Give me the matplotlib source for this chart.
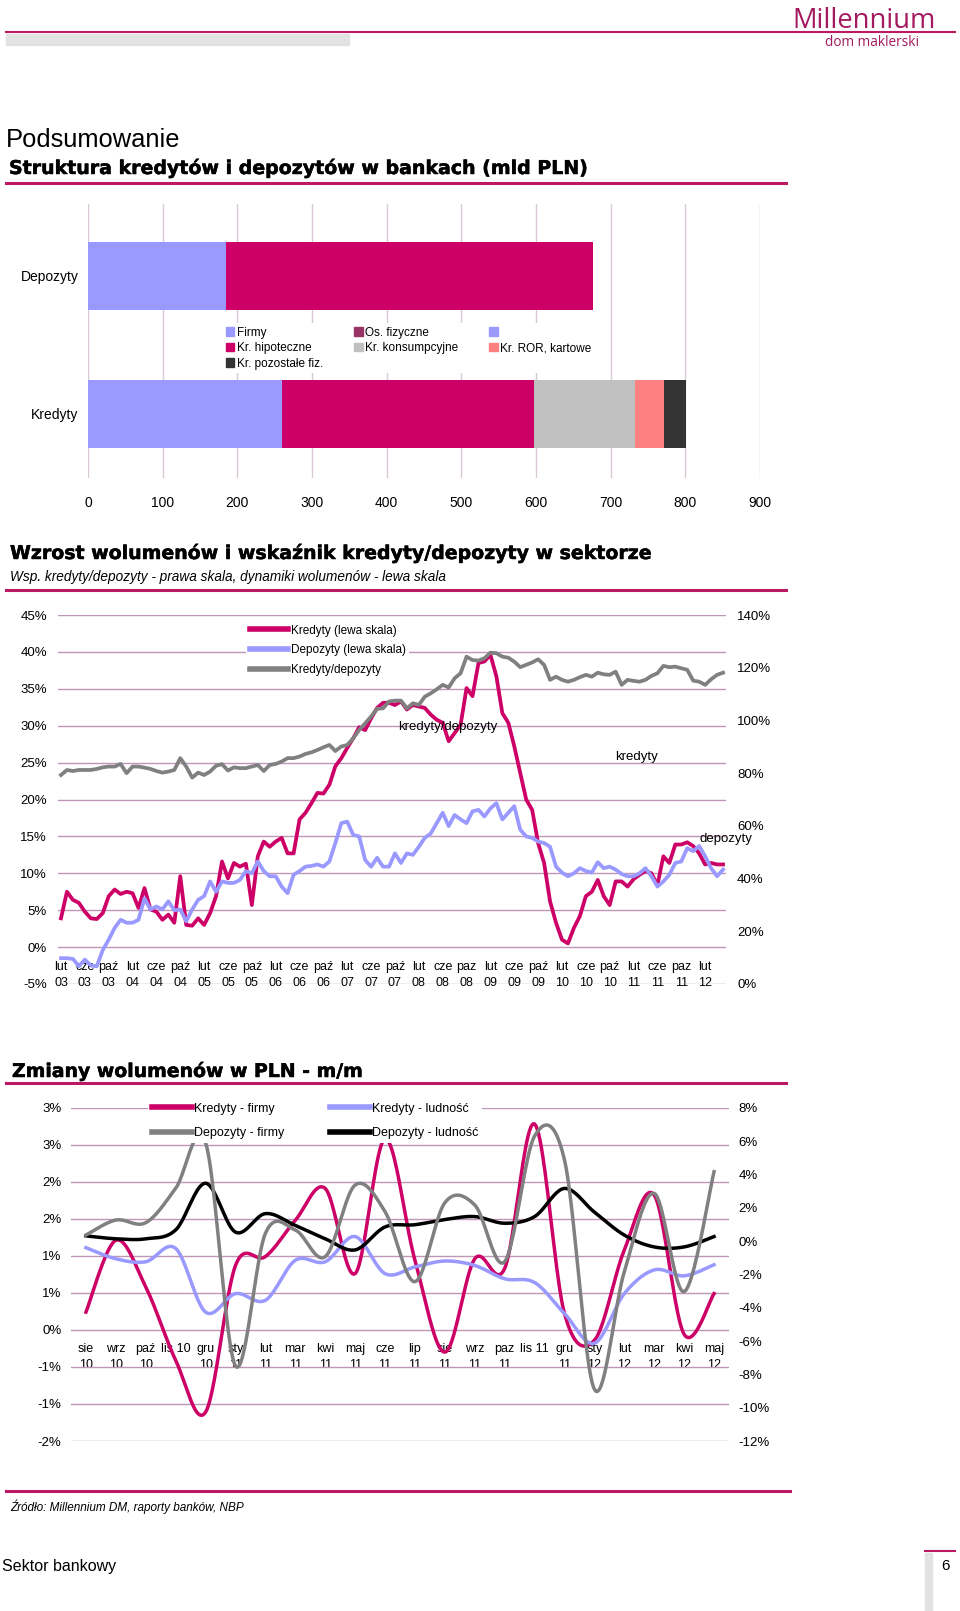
import numpy as np
import matplotlib
matplotlib.use('Agg')
import matplotlib.pyplot as plt
import matplotlib.patheffects as pe
from matplotlib.lines import Line2D
from matplotlib.patches import Patch, Rectangle
from matplotlib.ticker import FuncFormatter

plt.rcParams['font.family'] = ['Liberation Sans', 'DejaVu Sans']

# --- dane: struktura (mld PLN) ---
bar_cats = ['Kredyty', 'Depozyty']
dep_firmy = 185
dep_osoby = 491
kr_firmy_mld = 260
kr_hipo = 337
kr_konsum = 135
kr_ror = 39
kr_poz = 30

# --- dane: dynamiki r/r, lut 03 - maj 12 ---
kredyty = [3.9, 7.5, 6.4, 6.0, 4.8, 3.9, 3.8, 4.6, 6.9, 7.8, 7.2, 7.5,
           7.3, 5.3, 8.0, 5.1, 4.8, 3.7, 4.4, 3.3, 9.6, 3.0, 2.9, 3.9,
           3.0, 4.6, 6.9, 11.6, 9.3, 11.4, 10.9, 11.3, 5.7, 12.3, 14.3, 13.6,
           14.3, 14.8, 12.7, 12.7, 17.3, 18.2, 19.5, 20.9, 20.8, 22.0, 24.5, 25.6,
           27.0, 28.3, 29.8, 29.4, 31.0, 32.4, 33.1, 33.1, 32.8, 33.3, 32.2, 32.8,
           32.6, 32.4, 31.5, 30.8, 30.4, 27.9, 29.0, 30.1, 35.1, 34.0, 38.5, 38.7,
           39.6, 36.7, 31.7, 30.4, 27.2, 23.6, 20.0, 18.6, 14.1, 11.4, 6.2, 3.3,
           1.0, 0.5, 2.6, 4.2, 6.9, 7.5, 9.1, 6.9, 5.7, 8.9, 8.9, 8.2,
           9.2, 9.8, 10.3, 10.0, 8.4, 12.3, 11.4, 13.9, 13.9, 14.2, 13.7, 12.7,
           11.2, 11.4, 11.2, 11.2]
depozyty = [-1.5, -1.5, -1.6, -2.6, -1.7, -2.5, -2.6, -0.4, 1.0, 2.6, 3.7, 3.3,
            3.3, 3.7, 6.6, 5.1, 5.5, 5.1, 6.2, 5.0, 5.1, 3.5, 5.1, 6.4,
            6.9, 8.9, 7.5, 8.9, 8.7, 8.7, 9.1, 10.3, 10.0, 11.6, 10.3, 9.6,
            9.6, 8.2, 7.3, 9.8, 10.3, 10.9, 11.0, 11.2, 10.9, 11.6, 14.1, 16.8,
            17.0, 15.2, 15.0, 11.8, 10.9, 12.1, 10.9, 10.9, 12.7, 11.4, 12.7, 12.5,
            13.6, 14.8, 15.4, 16.8, 18.2, 16.4, 17.9, 17.3, 16.8, 18.4, 18.6, 17.7,
            18.8, 19.5, 17.3, 18.2, 19.1, 15.9, 15.0, 14.8, 14.3, 14.1, 13.6, 10.9,
            10.1, 9.6, 10.0, 10.7, 10.3, 10.1, 11.5, 10.7, 10.9, 10.5, 9.9, 9.6,
            9.6, 10.0, 10.7, 9.6, 8.2, 8.9, 9.8, 11.4, 11.6, 13.4, 13.0, 13.7,
            12.3, 10.7, 9.6, 10.5]
kred_dep = [79.3, 81.2, 80.8, 81.2, 81.2, 81.2, 81.6, 82.2, 82.5, 82.5, 83.5, 80.0,
            82.5, 82.5, 82.1, 81.6, 80.8, 80.2, 80.6, 81.2, 85.7, 82.5, 78.3, 80.2,
            79.3, 80.6, 82.8, 83.4, 81.0, 82.2, 81.9, 81.9, 82.5, 83.1, 80.8, 83.1,
            83.5, 84.4, 85.7, 85.7, 86.3, 87.3, 87.9, 88.8, 89.8, 90.7, 88.4, 90.1,
            90.7, 93.2, 96.4, 98.9, 101.5, 104.4, 104.6, 107.2, 107.5, 107.5, 104.6, 106.5,
            105.9, 109.0, 110.3, 111.8, 113.5, 112.5, 116.0, 117.9, 124.2, 122.9, 122.7, 123.6,
            125.7, 125.5, 124.2, 123.8, 122.3, 120.2, 121.1, 122.0, 123.2, 121.1, 115.4, 116.6,
            115.4, 114.7, 115.4, 116.4, 117.3, 116.6, 118.1, 117.5, 117.3, 118.5, 113.5, 115.4,
            115.0, 114.7, 115.4, 116.9, 117.9, 120.7, 120.2, 120.4, 119.8, 119.2, 115.1, 114.7,
            113.5, 115.6, 117.3, 118.1]
mid_months = ['lut', 'cze', 'paź'] * 5 + ['lut', 'cze', 'paz', 'lut', 'cze', 'paź',
                                          'lut', 'cze', 'paź', 'lut', 'cze', 'paz', 'lut']
mid_years = ['03', '03', '03', '04', '04', '04', '05', '05', '05', '06', '06', '06',
             '07', '07', '07', '08', '08', '08', '09', '09', '09', '10', '10', '10',
             '11', '11', '11', '12']

# --- dane: zmiany m/m, sie 10 - maj 12 ---
mm_labels = ['sie\n10', 'wrz\n10', 'paź\n10', 'lis 10', 'gru\n10', 'sty\n11', 'lut\n11',
             'mar\n11', 'kwi\n11', 'maj\n11', 'cze\n11', 'lip\n11', 'sie\n11', 'wrz\n11',
             'paz\n11', 'lis 11', 'gru\n11', 'sty\n12', 'lut\n12', 'mar\n12', 'kwi\n12',
             'maj\n12']
kr_firmy = [0.24, 1.21, 0.58, -0.41, -1.11, 0.87, 0.99, 1.48, 1.91, 0.76, 2.58,
            0.94, -0.30, 0.96, 0.83, 2.78, 0.22, -0.14, 1.08, 1.82, -0.06, 0.49]
kr_ludnosc = [1.11, 0.96, 0.92, 1.10, 0.24, 0.49, 0.40, 0.94, 0.92, 1.26, 0.76,
              0.85, 0.93, 0.87, 0.69, 0.64, 0.22, -0.18, 0.49, 0.81, 0.73, 0.88]
dep_ludnosc = [1.27, 1.23, 1.23, 1.35, 1.98, 1.32, 1.57, 1.41, 1.23, 1.08, 1.39,
               1.42, 1.49, 1.53, 1.44, 1.53, 1.91, 1.59, 1.28, 1.12, 1.12, 1.26]
dep_firmy_mm = [0.36, 1.26, 1.10, 3.16, 5.9, -7.5, 0.46, 0.66, -0.94, 3.36, 1.76,
                -2.44, 2.3, 2.16, -1.24, 6.3, 4.86, -8.9, -1.84, 2.86, -3.04, 4.16]

MAG = '#cc0066'
RULE = '#bb1a62'
BLUE = '#9999ff'
GRAY = '#808080'
GRID = '#c096b6'

W, H = 960, 1611
fig = plt.figure(figsize=(9.6, 16.11), dpi=100)
renderer = fig.canvas.get_renderer()


def fx(x):
    return x / W


def fy(y):
    return 1 - y / H


def box(x0, y0, x1, y1):
    return [x0 / W, 1 - y1 / H, (x1 - x0) / W, (y1 - y0) / H]


def hline(x0, x1, y, color=RULE, lw=2.2):
    fig.add_artist(Line2D([fx(x0), fx(x1)], [fy(y), fy(y)], color=color, lw=lw,
                          transform=fig.transFigure))


def fit_text(x, y, s, width, **kw):
    t = fig.text(fx(x), fy(y), s, va='center', **kw)
    w = t.get_window_extent(renderer).width
    t.set_fontsize(t.get_fontsize() * width / w)
    return t


def smooth(x, y, n=24):
    # wygladzanie jak w Excelu (krzywe Beziera)
    x = np.asarray(x, float)
    y = np.asarray(y, float)
    px = np.concatenate([[x[0]], x, [x[-1]]])
    py = np.concatenate([[y[0]], y, [y[-1]]])
    t = np.linspace(0, 1, n)
    xs, ys = [], []
    for k in range(len(x) - 1):
        p0, p1, p2, p3 = [np.array([px[k + j], py[k + j]]) for j in range(4)]
        c1 = p1 + (p2 - p0) / 6
        c2 = p2 - (p3 - p1) / 6
        pts = ((1 - t) ** 3)[:, None] * p1 + (3 * (1 - t) ** 2 * t)[:, None] * c1 \
            + (3 * (1 - t) * t ** 2)[:, None] * c2 + (t ** 3)[:, None] * p2
        xs.extend(pts[:, 0])
        ys.extend(pts[:, 1])
    return xs, ys


def clean(ax):
    for s in ax.spines.values():
        s.set_visible(False)
    ax.tick_params(length=0)


TITLE = dict(fontweight='bold', fontfamily='DejaVu Sans',
             path_effects=[pe.withStroke(linewidth=0.35, foreground='black')])

# --- naglowek ---
hline(6, 955, 32, lw=1.5)
fig.add_artist(Rectangle((fx(6), fy(45)), (349 - 6) / W, 11 / H, color='#e2e2e2',
                         transform=fig.transFigure))
fit_text(792, 21, 'Millennium', 144, color='#a31a5e', fontfamily='Open Sans')
fit_text(825, 42, 'dom maklerski', 94, color='#a31a5e', fontfamily='Open Sans')

fit_text(6, 140, 'Podsumowanie', 175)
fit_text(9, 168, 'Struktura kredytów i depozytów w bankach (mld PLN)', 579, **TITLE)
hline(6, 786, 183)

# --- wykres slupkowy ---
ax = fig.add_axes(box(88, 204, 760, 478))
ypos = [0, 1]
ax.barh(ypos[1], dep_firmy, height=0.49, color=BLUE)
ax.barh(ypos[1], dep_osoby, left=dep_firmy, height=0.49, color=MAG)
left = 0
for val, col in zip([kr_firmy_mld, kr_hipo, kr_konsum, kr_ror, kr_poz],
                    [BLUE, MAG, '#c0c0c0', '#ff8080', '#333333']):
    ax.barh(ypos[0], val, left=left, height=0.49, color=col)
    left += val
ax.set_xlim(0, 900)
ax.set_ylim(-0.464, 1.52)
ax.set_xticks(range(0, 901, 100))
ax.set_yticks(ypos)
ax.set_yticklabels(bar_cats)
ax.grid(axis='x', color='#d8c8d8', lw=1)
ax.set_axisbelow(True)
clean(ax)
ax.tick_params(axis='x', pad=13, labelsize=10)
ax.tick_params(axis='y', pad=7, labelsize=10)
handles = [Patch(color=BLUE), Patch(color=MAG), Patch(color='#333333'),
           Patch(color='#993366'), Patch(color='#c0c0c0'),
           Patch(color=BLUE), Patch(color='#ff8080')]
labels = ['Firmy', 'Kr. hipoteczne', 'Kr. pozostałe fiz.', 'Os. fizyczne',
          'Kr. konsumpcyjne', '', 'Kr. ROR, kartowe']
ax.legend(handles, labels, ncol=3, loc='upper left',
          bbox_to_anchor=(fx(222), fy(323)), bbox_transform=fig.transFigure,
          fontsize=8.5, handlelength=0.75, handleheight=0.75, handletextpad=0.2,
          columnspacing=2.6, labelspacing=0.3, borderpad=0.3, borderaxespad=0,
          frameon=True, facecolor='white', edgecolor='none', framealpha=1,
          fancybox=False)

# --- wykres dynamik ---
fit_text(10, 553, 'Wzrost wolumenów i wskaźnik kredyty/depozyty w sektorze', 641,
         **TITLE)
fit_text(10, 577, 'Wsp. kredyty/depozyty - prawa skala, dynamiki wolumenów - lewa skala',
         435, style='italic')
hline(6, 786, 590)

ax = fig.add_axes(box(58, 615, 726, 984))
ax2 = ax.twinx()
mx = np.arange(len(kredyty))
ax.plot(mx, kredyty, color=MAG, lw=2.7)
ax.plot(mx, depozyty, color=BLUE, lw=2.7)
ax2.plot(mx, kred_dep, color=GRAY, lw=2.7)
ax.set_xlim(-0.5, 111.5)
ax.set_ylim(-5, 45)
ax2.set_ylim(0, 140)
ax.set_yticks(range(-5, 46, 5))
ax2.set_yticks(range(0, 141, 20))
ax.yaxis.set_major_formatter(FuncFormatter(lambda v, p: '%d%%' % v))
ax2.yaxis.set_major_formatter(FuncFormatter(lambda v, p: '%d%%' % v))
ax.grid(axis='y', color=GRID, lw=1)
ax.set_axisbelow(True)
ax.set_xticks(range(0, 112, 4))
ax.set_xticklabels([m + '\n' + y for m, y in zip(mid_months, mid_years)])
ax.spines['bottom'].set_position(('data', 0))
clean(ax)
clean(ax2)
ax.tick_params(axis='y', pad=8, labelsize=9.5)
ax2.tick_params(axis='y', pad=8, labelsize=9.5)
ax.tick_params(axis='x', pad=10, labelsize=9)
for lbl in ax.get_xticklabels():
    lbl.set_linespacing(1.4)
ax.text(56.5, 29.85, 'kredyty/depozyty', fontsize=9.5, va='center')
ax.text(92.9, 25.8, 'kredyty', fontsize=9.5, va='center')
ax.text(107.1, 14.7, 'depozyty', fontsize=9.5, va='center')
hs = [Line2D([], [], color=c, lw=4) for c in (MAG, BLUE, GRAY)]
ax2.legend(hs, ['Kredyty (lewa skala)', 'Depozyty (lewa skala)', 'Kredyty/depozyty'],
           loc='upper left', bbox_to_anchor=(fx(246), fy(621)),
           bbox_transform=fig.transFigure, fontsize=8.5, handlelength=3.3,
           handletextpad=0.2, labelspacing=0.64, borderpad=0.3, borderaxespad=0,
           frameon=True, facecolor='white', edgecolor='none', framealpha=1,
           fancybox=False)

# --- zmiany m/m ---
fit_text(12, 1071, 'Zmiany wolumenów w PLN - m/m', 351, **TITLE)
hline(6, 786, 1083)

ax = fig.add_axes(box(71, 1107.7, 729, 1441))
ax2 = ax.twinx()
bx = np.arange(len(kr_firmy))
ax.plot(*smooth(bx, kr_firmy), color=MAG, lw=2.5)
ax.plot(*smooth(bx, kr_ludnosc), color=BLUE, lw=2.5)
ax.plot(*smooth(bx, dep_ludnosc), color='black', lw=2.5)
ax2.plot(*smooth(bx, dep_firmy_mm), color=GRAY, lw=2.5)
ax.set_xlim(-0.5, 21.5)
ax.set_ylim(-1.5, 3.0)
ax2.set_ylim(-12, 8)
ax.set_yticks(np.arange(-1.5, 3.01, 0.5))
ax2.set_yticks(range(-12, 9, 2))
ax.yaxis.set_major_formatter(FuncFormatter(
    lambda v, p: '%d%%' % (np.sign(v) * np.floor(abs(v) + 0.5))))
ax2.yaxis.set_major_formatter(FuncFormatter(lambda v, p: '%d%%' % v))
ax.grid(axis='y', color=GRID, lw=1)
ax.set_axisbelow(True)
ax.set_xticks(bx)
ax.set_xticklabels(mm_labels)
ax.spines['bottom'].set_position(('data', 0))
clean(ax)
clean(ax2)
ax.tick_params(axis='y', pad=7, labelsize=9.5)
ax2.tick_params(axis='y', pad=7, labelsize=9.5)
ax.tick_params(axis='x', pad=9.5, labelsize=9)
for lbl in ax.get_xticklabels():
    lbl.set_linespacing(1.4)
hs = [Line2D([], [], color=c, lw=4) for c in (MAG, GRAY, BLUE, 'black')]
ax2.legend(hs, ['Kredyty - firmy', 'Depozyty - firmy', 'Kredyty - ludność',
                'Depozyty - ludność'],
           ncol=2, loc='upper left', bbox_to_anchor=(fx(148), fy(1099)),
           bbox_transform=fig.transFigure, fontsize=9, handlelength=3.2,
           handletextpad=0.15, columnspacing=3.7, labelspacing=1.0, borderpad=0.3,
           borderaxespad=0, frameon=True, facecolor='white', edgecolor='none',
           framealpha=1, fancybox=False)

# --- stopka ---
hline(6, 790, 1491)
fit_text(10, 1507, 'Źródło: Millennium DM, raporty banków, NBP', 236, style='italic')
fit_text(2, 1566, 'Sektor bankowy', 114)
fig.text(fx(946), fy(1566), '6', ha='center', va='center', fontsize=11)
fig.add_artist(Rectangle((fx(925), fy(1611)), 7 / W, 58 / H, color='#e2e2e2',
                         transform=fig.transFigure))
hline(925, 955, 1551, lw=1.5)

fig.savefig('out.png', dpi=100)
